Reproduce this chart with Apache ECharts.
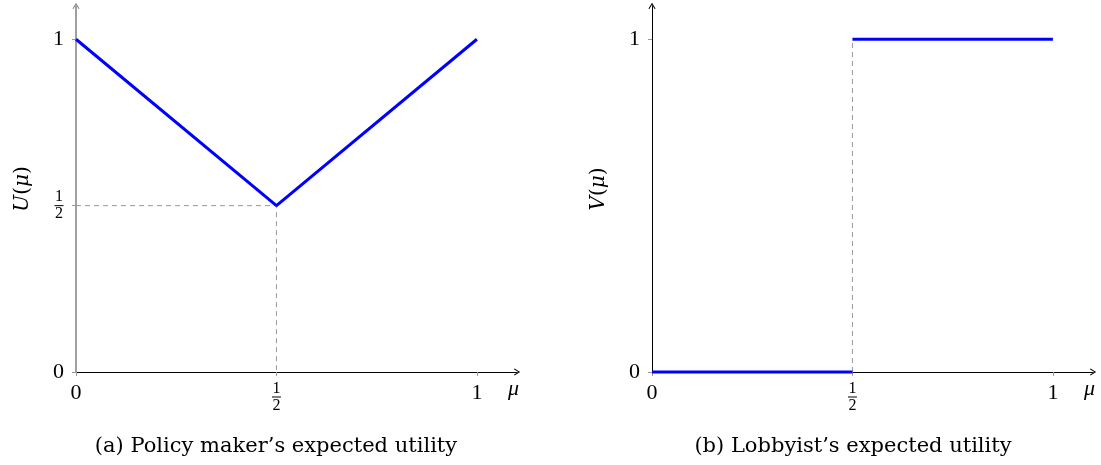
<!DOCTYPE html>
<html>
<head>
<meta charset="utf-8">
<script src="https://cdn.jsdelivr.net/npm/echarts@6/dist/echarts.min.js"></script>
<style>
  html, body { margin: 0; padding: 0; background: #fff; }
  #chart { width: 1101px; height: 465px; }
</style>
</head>
<body>
<div id="chart"></div>
<script>
// ---- data ----
const xTicks = [0, 0.5, 1];
const yTicksLeft = [0, 0.5, 1];
const yTicksRight = [0, 1];
const policyMu = [0, 0.5, 1];
const policyU = [1, 0.5, 1];
const lobbyLowMu = [0, 0.5];
const lobbyLowV = [0, 0];
const lobbyHighMu = [0.5, 1];
const lobbyHighV = [1, 1];
const guideLeftMu = [0, 0.5, 0.5];
const guideLeftU = [0.5, 0.5, 0];
const guideRightMu = [0.5, 0.5];
const guideRightV = [0, 1];
const captionA = '(a) Policy maker\u2019s expected utility';
const captionB = '(b) Lobbyist\u2019s expected utility';

const FONT = "'Liberation Serif', 'DejaVu Serif', serif";
const WIDE = "'DejaVu Serif', 'Liberation Serif', serif";
const zip = (xs, ys) => xs.map((x, i) => [x, ys[i]]);
const arrow = 'path://M5,0 L10,8 L9,9 L5,2.6 L1,9 L0,8 Z';

const fracRich = {
  n: { fontFamily: FONT, fontSize: 16, lineHeight: 13, width: 10, align: 'center', color: '#000' },
  b: { width: 9, height: 1, lineHeight: 4, backgroundColor: '#000', align: 'center' },
  d: { fontFamily: FONT, fontSize: 16, lineHeight: 13, width: 10, align: 'center', color: '#000' }
};
function tickFmt(v) {
  if (Math.abs(v - 0.5) < 1e-9) return '{n|1}\n{b|}\n{d|2}';
  return String(Math.round(v));
}

function xAxis(gi) {
  return {
    gridIndex: gi, type: 'value', min: 0, max: 1.1,
    axisLine: { show: true, lineStyle: { color: '#000', width: 1 }, symbol: ['none', arrow], symbolSize: [7, 8] },
    axisTick: { show: true, customValues: xTicks, length: 4, lineStyle: { color: '#999' } },
    axisLabel: { customValues: xTicks, formatter: tickFmt, rich: fracRich, margin: 10, fontFamily: FONT, fontSize: 22, color: '#000', verticalAlign: 'top' },
    splitLine: { show: false },
    name: '\u03bc', nameLocation: 'end', nameGap: -9,
    nameTextStyle: { fontFamily: FONT, fontStyle: 'italic', fontSize: 22, color: '#000', verticalAlign: 'top', padding: [6, 0, 0, 0] }
  };
}
function yAxis(gi, ticks, letter, color, width) {
  return {
    gridIndex: gi, type: 'value', min: 0, max: 1.1,
    axisLine: { show: true, lineStyle: { color: color, width: width }, symbol: ['none', arrow], symbolSize: [7, 8] },
    axisTick: { show: true, customValues: ticks, length: 4, lineStyle: { color: '#999' } },
    axisLabel: { customValues: ticks, formatter: tickFmt, rich: fracRich, margin: 12, fontFamily: FONT, fontSize: 22, color: '#000' },
    splitLine: { show: false },
    name: '{i|' + letter + '}{r|(}{i|\u03bc}{r|)}', nameLocation: 'middle', nameGap: 43,
    nameTextStyle: {
      color: '#000',
      rich: {
        i: { fontFamily: WIDE, fontStyle: 'italic', fontSize: 20, color: '#000' },
        r: { fontFamily: WIDE, fontSize: 20, color: '#000' }
      }
    }
  };
}

const blue = { color: '#0000ff', width: 3 };
const dash = { color: '#999', width: 1, type: [5, 4] };

const option = {
  animation: false,
  backgroundColor: '#fff',
  grid: [
    { left: 76, top: 6, width: 441, height: 366 },
    { left: 652, top: 6, width: 441, height: 366 }
  ],
  xAxis: [xAxis(0), xAxis(1)],
  yAxis: [yAxis(0, yTicksLeft, 'U', '#888', 1.6), yAxis(1, yTicksRight, 'V', '#000', 1)],
  series: [
    { type: 'line', xAxisIndex: 0, yAxisIndex: 0, data: zip(guideLeftMu, guideLeftU), symbol: 'none', lineStyle: dash, z: 1, clip: false, silent: true },
    { type: 'line', xAxisIndex: 0, yAxisIndex: 0, data: zip(policyMu, policyU), symbol: 'none', lineStyle: blue, z: 3, clip: false },
    { type: 'line', xAxisIndex: 1, yAxisIndex: 1, data: zip(guideRightMu, guideRightV), symbol: 'none', lineStyle: dash, z: 1, clip: false, silent: true },
    { type: 'line', xAxisIndex: 1, yAxisIndex: 1, data: zip(lobbyLowMu, lobbyLowV), symbol: 'none', lineStyle: blue, z: 3, clip: false },
    { type: 'line', xAxisIndex: 1, yAxisIndex: 1, data: zip(lobbyHighMu, lobbyHighV), symbol: 'none', lineStyle: blue, z: 3, clip: false }
  ],
  graphic: [
    { type: 'text', x: 276, y: 447, style: { text: captionA, textAlign: 'center', textVerticalAlign: 'middle', font: '21px ' + WIDE, fill: '#000' } },
    { type: 'text', x: 853, y: 447, style: { text: captionB, textAlign: 'center', textVerticalAlign: 'middle', font: '21px ' + WIDE, fill: '#000' } }
  ]
};

const chart = echarts.init(document.getElementById('chart'), null, { renderer: 'canvas' });
chart.setOption(option);
</script>
</body>
</html>
